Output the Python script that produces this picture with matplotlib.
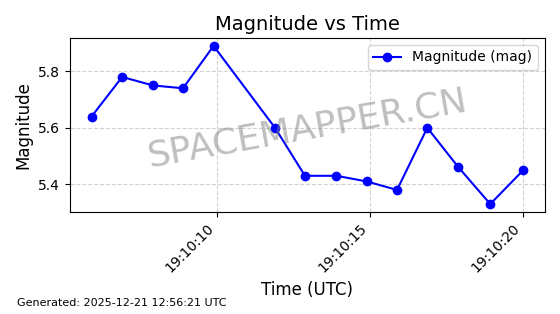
import matplotlib
matplotlib.use('Agg')
import matplotlib.pyplot as plt
import matplotlib.dates as mdates
from datetime import datetime, timedelta

# 데이터
base = datetime(2025, 12, 21, 19, 10, 0)
seconds = [5.90, 6.90, 7.91, 8.89, 9.89, 11.90, 12.88, 13.91, 14.90, 15.89, 16.88, 17.90, 18.94, 20.02]
magnitude = [5.64, 5.78, 5.75, 5.74, 5.89, 5.60, 5.43, 5.43, 5.41, 5.38, 5.60, 5.46, 5.33, 5.45]
times = [base + timedelta(seconds=s) for s in seconds]

fig, ax = plt.subplots(figsize=(5.6, 3.14), dpi=100)
fig.subplots_adjust(left=0.125, right=0.973, top=0.879, bottom=0.325)

ax.plot(times, magnitude, color='blue', marker='o', linestyle='-', label='Magnitude (mag)')
ax.set_title('Magnitude vs Time', fontsize=14)
ax.set_xlabel('Time (UTC)', fontsize=12)
ax.set_ylabel('Magnitude', fontsize=12)
ax.grid(True, linestyle='--', color='lightgray')
ax.legend(loc='upper right')

ax.xaxis.set_major_locator(mdates.SecondLocator(bysecond=range(0, 60, 5)))
ax.xaxis.set_major_formatter(mdates.DateFormatter('%H:%M:%S'))
plt.setp(ax.get_xticklabels(), rotation=45, ha='right')

# 워터마크
ax.text(0.5, 0.48, 'SPACEMAPPER.CN', transform=ax.transAxes, fontsize=26,
        color='gray', alpha=0.5, ha='center', va='center', rotation=10)

fig.text(0.03, 0.025, 'Generated: 2025-12-21 12:56:21 UTC', fontsize=8)

plt.savefig('out.png')
